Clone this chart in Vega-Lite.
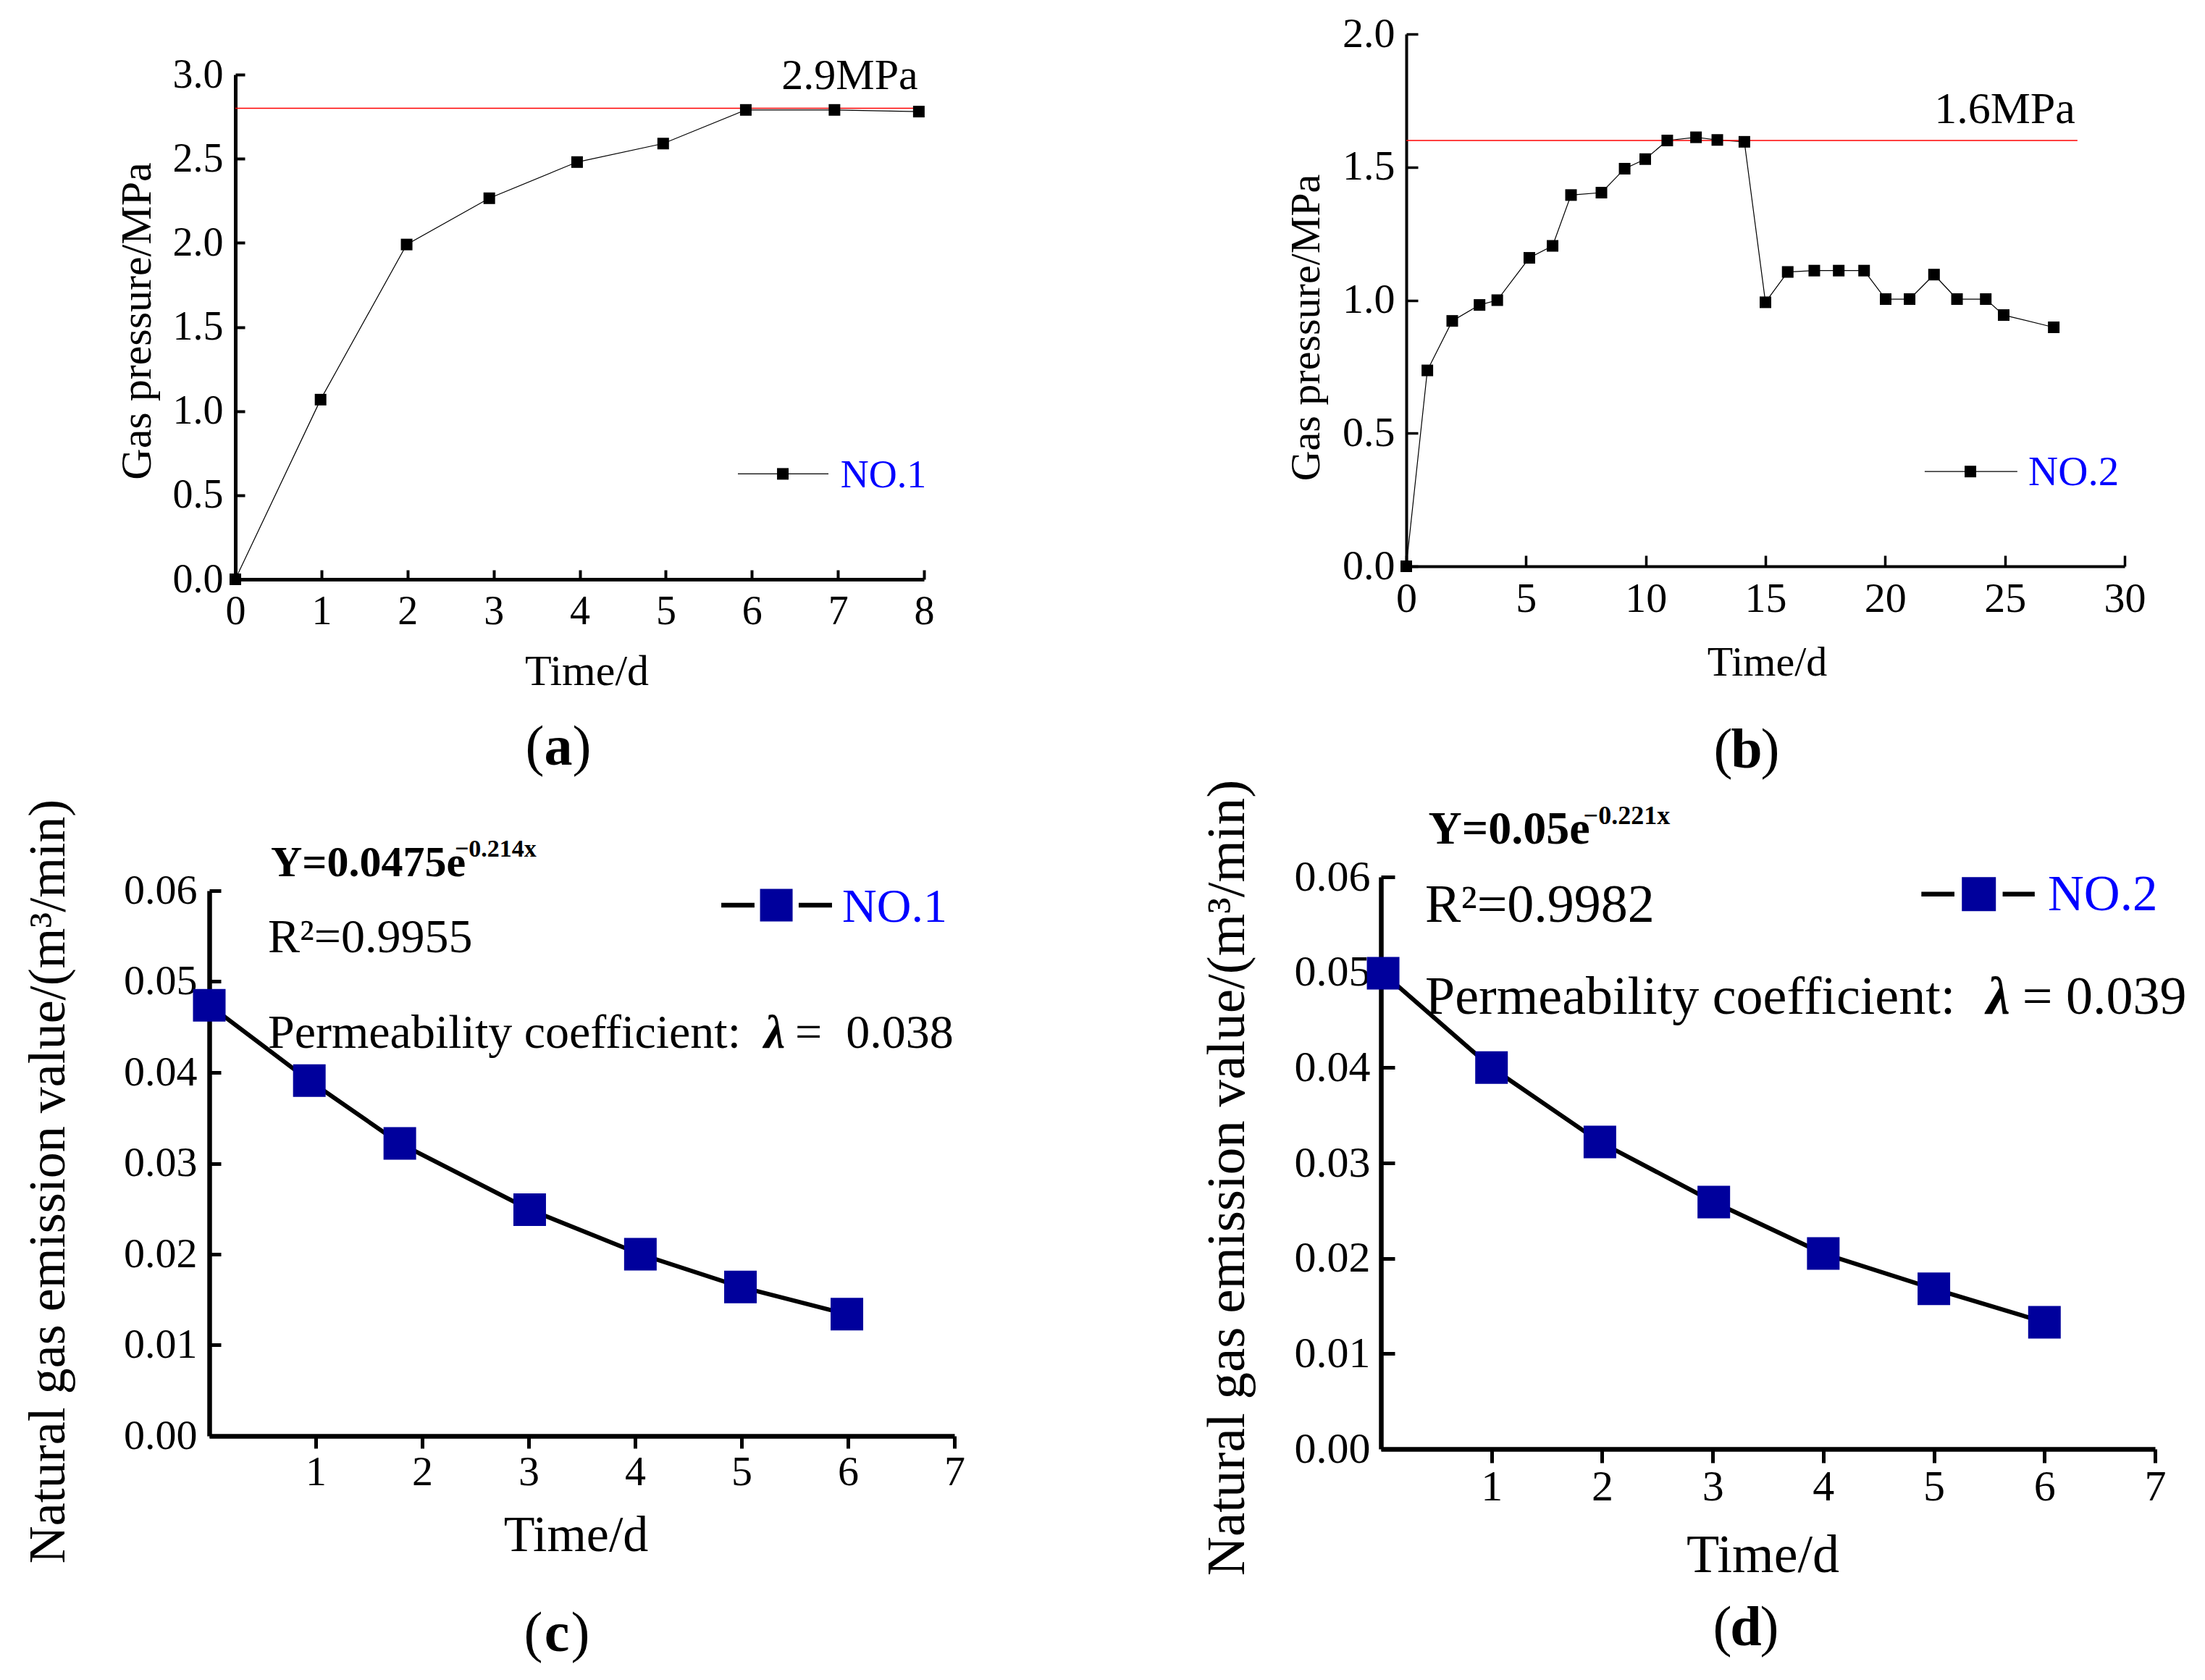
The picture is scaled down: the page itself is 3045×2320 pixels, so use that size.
{
  "$schema": "https://vega.github.io/schema/vega-lite/v6.json",
  "autosize": {"type": "pad"},
  "padding": {"left": 29, "top": 18, "right": 0, "bottom": 0},
  "background": "white",
  "config": {
    "font": "Liberation Serif",
    "view": {"stroke": null},
    "axis": {
      "grid": false,
      "domainColor": "black",
      "tickColor": "black",
      "labelColor": "black",
      "titleColor": "black",
      "labelFont": "Liberation Serif",
      "titleFont": "Liberation Serif",
      "titleFontWeight": "normal",
      "labelFlush": false,
      "labelOverlap": false
    },
    "text": {"font": "Liberation Serif", "color": "black"}
  },
  "datasets": {
    "a": [
      {"t": 0, "p": 0}, {"t": 0.99, "p": 1.068}, {"t": 1.99, "p": 1.99},
      {"t": 2.95, "p": 2.265}, {"t": 3.97, "p": 2.48}, {"t": 4.97, "p": 2.59},
      {"t": 5.93, "p": 2.79}, {"t": 6.96, "p": 2.79}, {"t": 7.94, "p": 2.78}
    ],
    "b": [
      {"t": 0, "p": 0}, {"t": 0.88, "p": 0.736}, {"t": 1.92, "p": 0.922},
      {"t": 3.06, "p": 0.982}, {"t": 3.8, "p": 1.0}, {"t": 5.14, "p": 1.159},
      {"t": 6.11, "p": 1.204}, {"t": 6.88, "p": 1.395}, {"t": 8.15, "p": 1.404},
      {"t": 9.12, "p": 1.494}, {"t": 9.98, "p": 1.53}, {"t": 10.9, "p": 1.6},
      {"t": 12.1, "p": 1.612}, {"t": 12.99, "p": 1.602}, {"t": 14.12, "p": 1.595},
      {"t": 15.0, "p": 0.992}, {"t": 15.93, "p": 1.106}, {"t": 17.04, "p": 1.111},
      {"t": 18.06, "p": 1.111}, {"t": 19.12, "p": 1.111}, {"t": 20.02, "p": 1.004},
      {"t": 21.02, "p": 1.004}, {"t": 22.04, "p": 1.096}, {"t": 23.0, "p": 1.004},
      {"t": 24.2, "p": 1.004}, {"t": 24.95, "p": 0.944}, {"t": 27.04, "p": 0.898}
    ],
    "c": [
      {"t": 0, "v": 0.0474}, {"t": 0.94, "v": 0.0391}, {"t": 1.79, "v": 0.0322},
      {"t": 3.01, "v": 0.0249}, {"t": 4.05, "v": 0.02}, {"t": 4.99, "v": 0.0164},
      {"t": 5.99, "v": 0.0134}
    ],
    "d": [
      {"t": 0.02, "v": 0.0499}, {"t": 1.0, "v": 0.04}, {"t": 1.98, "v": 0.0322},
      {"t": 3.01, "v": 0.0259}, {"t": 4.0, "v": 0.0205}, {"t": 5.0, "v": 0.0168},
      {"t": 6.0, "v": 0.0133}
    ]
  },
  "columns": 2,
  "spacing": {"row": 374, "column": 549},
  "bounds": "flush",
  "align": "all",
  "concat": [
    {
      "width": 1029,
      "height": 753,
      "data": {"name": "a"},
      "layer": [
        {
          "mark": {"type": "line", "color": "black", "strokeWidth": 1.2},
          "encoding": {
            "x": {
              "field": "t", "type": "quantitative",
              "scale": {"domain": [0, 8], "range": [36, 987], "nice": false, "zero": false},
              "axis": {
                "title": "Time/d", "values": [0, 1, 2, 3, 4, 5, 6, 7, 8], "format": "d",
                "offset": 0, "tickSize": -13, "tickWidth": 4, "domainWidth": 5,
                "labelFontSize": 56, "labelPadding": 74, "labelBaseline": "alphabetic",
                "titleFontSize": 60, "titleX": 521, "titleY": 145,
                "titleAlign": "center", "titleBaseline": "alphabetic"
              }
            },
            "y": {
              "field": "p", "type": "quantitative",
              "scale": {"domain": [0, 3], "range": [753, 56], "nice": false, "zero": false},
              "axis": {
                "title": "Gas pressure/MPa", "values": [0, 0.5, 1, 1.5, 2, 2.5, 3], "format": ".1f",
                "offset": -36, "tickSize": -13, "tickWidth": 4, "domainWidth": 5,
                "labelFontSize": 56, "labelPadding": 30,
                "titleFontSize": 60, "titleAngle": 270, "titleX": -118, "titleY": 396,
                "titleAlign": "center", "titleBaseline": "alphabetic"
              }
            }
          }
        },
        {
          "data": {"values": [{}]},
          "mark": {"type": "rule", "color": "#ff0000", "strokeWidth": 1.5},
          "encoding": {
            "x": {"datum": 0, "type": "quantitative"},
            "x2": {"datum": 8},
            "y": {"datum": 2.8, "type": "quantitative"}
          }
        },
        {
          "mark": {"type": "point", "shape": "square", "filled": true, "color": "black", "size": 256, "opacity": 1},
          "encoding": {
            "x": {"field": "t", "type": "quantitative"},
            "y": {"field": "p", "type": "quantitative"}
          }
        },
        {
          "data": {"values": [{}]},
          "mark": {"type": "text", "text": "2.9MPa", "fontSize": 60, "align": "right", "baseline": "alphabetic"},
          "encoding": {
            "x": {"datum": 7.93, "type": "quantitative"},
            "y": {"datum": 2.912, "type": "quantitative"}
          }
        },
        {
          "data": {"values": [{}]},
          "mark": {"type": "rule", "color": "black", "strokeWidth": 1.2},
          "encoding": {
            "x": {"datum": 5.838, "type": "quantitative"},
            "x2": {"datum": 6.89},
            "y": {"datum": 0.6267, "type": "quantitative"}
          }
        },
        {
          "data": {"values": [{}]},
          "mark": {"type": "point", "shape": "square", "filled": true, "color": "black", "size": 256, "opacity": 1},
          "encoding": {
            "x": {"datum": 6.36, "type": "quantitative"},
            "y": {"datum": 0.6267, "type": "quantitative"}
          }
        },
        {
          "data": {"values": [{}]},
          "mark": {"type": "text", "text": "NO.1", "fontSize": 54, "align": "left", "baseline": "alphabetic", "color": "#0000ff"},
          "encoding": {
            "x": {"datum": 7.03, "type": "quantitative"},
            "y": {"datum": 0.5466, "type": "quantitative"}
          }
        },
        {
          "data": {"values": [{}]},
          "mark": {"type": "text", "text": "(\u2002)", "fontSize": 78, "align": "center", "baseline": "alphabetic"},
          "encoding": {
            "x": {"datum": 3.752, "type": "quantitative"},
            "y": {"datum": -1.102, "type": "quantitative"}
          }
        },
        {
          "data": {"values": [{}]},
          "mark": {"type": "text", "text": "a", "fontSize": 78, "fontWeight": "bold", "align": "center", "baseline": "alphabetic"},
          "encoding": {
            "x": {"datum": 3.752, "type": "quantitative"},
            "y": {"datum": -1.102, "type": "quantitative"}
          }
        }
      ]
    },
    {
      "width": 1069,
      "height": 753,
      "data": {"name": "b"},
      "layer": [
        {
          "mark": {"type": "line", "color": "black", "strokeWidth": 1.2},
          "encoding": {
            "x": {
              "field": "t", "type": "quantitative",
              "scale": {"domain": [0, 30], "range": [35, 1027], "nice": false, "zero": false},
              "axis": {
                "title": "Time/d", "values": [0, 5, 10, 15, 20, 25, 30], "format": "d",
                "offset": -18, "tickSize": -15, "tickWidth": 3.5, "domainWidth": 4,
                "labelFontSize": 58, "labelPadding": 77, "labelBaseline": "alphabetic",
                "titleFontSize": 58, "titleX": 533, "titleY": 150,
                "titleAlign": "center", "titleBaseline": "alphabetic"
              }
            },
            "y": {
              "field": "p", "type": "quantitative",
              "scale": {"domain": [0, 2], "range": [735, 0], "nice": false, "zero": false},
              "axis": {
                "title": "Gas pressure/MPa", "values": [0, 0.5, 1, 1.5, 2], "format": ".1f",
                "offset": -35, "tickSize": -16, "tickWidth": 3.5, "domainWidth": 4,
                "labelFontSize": 58, "labelPadding": 32,
                "titleFontSize": 58, "titleAngle": 270, "titleX": -121, "titleY": 405,
                "titleAlign": "center", "titleBaseline": "alphabetic"
              }
            }
          }
        },
        {
          "data": {"values": [{}]},
          "mark": {"type": "rule", "color": "#ff0000", "strokeWidth": 1.5},
          "encoding": {
            "x": {"datum": 0, "type": "quantitative"},
            "x2": {"datum": 28.03},
            "y": {"datum": 1.6, "type": "quantitative"}
          }
        },
        {
          "mark": {"type": "point", "shape": "square", "filled": true, "color": "black", "size": 256, "opacity": 1},
          "encoding": {
            "x": {"field": "t", "type": "quantitative"},
            "y": {"field": "p", "type": "quantitative"}
          }
        },
        {
          "data": {"values": [{}]},
          "mark": {"type": "text", "text": "1.6MPa", "fontSize": 62, "align": "right", "baseline": "alphabetic"},
          "encoding": {
            "x": {"datum": 27.94, "type": "quantitative"},
            "y": {"datum": 1.665, "type": "quantitative"}
          }
        },
        {
          "data": {"values": [{}]},
          "mark": {"type": "rule", "color": "black", "strokeWidth": 1.2},
          "encoding": {
            "x": {"datum": 21.65, "type": "quantitative"},
            "x2": {"datum": 25.52},
            "y": {"datum": 0.356, "type": "quantitative"}
          }
        },
        {
          "data": {"values": [{}]},
          "mark": {"type": "point", "shape": "square", "filled": true, "color": "black", "size": 256, "opacity": 1},
          "encoding": {
            "x": {"datum": 23.56, "type": "quantitative"},
            "y": {"datum": 0.356, "type": "quantitative"}
          }
        },
        {
          "data": {"values": [{}]},
          "mark": {"type": "text", "text": "NO.2", "fontSize": 57, "align": "left", "baseline": "alphabetic", "color": "#0000ff"},
          "encoding": {
            "x": {"datum": 25.98, "type": "quantitative"},
            "y": {"datum": 0.3048, "type": "quantitative"}
          }
        },
        {
          "data": {"values": [{}]},
          "mark": {"type": "text", "text": "(\u2002)", "fontSize": 78, "align": "center", "baseline": "alphabetic"},
          "encoding": {
            "x": {"datum": 14.21, "type": "quantitative"},
            "y": {"datum": -0.7565, "type": "quantitative"}
          }
        },
        {
          "data": {"values": [{}]},
          "mark": {"type": "text", "text": "b", "fontSize": 78, "fontWeight": "bold", "align": "center", "baseline": "alphabetic"},
          "encoding": {
            "x": {"datum": 14.21, "type": "quantitative"},
            "y": {"datum": -0.7565, "type": "quantitative"}
          }
        }
      ]
    },
    {
      "width": 1029,
      "height": 790,
      "data": {"name": "c"},
      "layer": [
        {
          "mark": {"type": "line", "color": "black", "strokeWidth": 6},
          "encoding": {
            "x": {
              "field": "t", "type": "quantitative",
              "scale": {"domain": [0, 7], "range": [0, 1029], "nice": false, "zero": false},
              "axis": {
                "title": "Time/d", "values": [1, 2, 3, 4, 5, 6, 7], "format": "d",
                "offset": -18, "tickSize": 17, "tickWidth": 5, "domainWidth": 6.5,
                "labelFontSize": 58, "labelPadding": 50, "labelBaseline": "alphabetic",
                "titleFontSize": 70, "titleX": 506, "titleY": 158,
                "titleAlign": "center", "titleBaseline": "alphabetic"
              }
            },
            "y": {
              "field": "v", "type": "quantitative",
              "scale": {"domain": [0, 0.06], "range": [772, 19], "nice": false, "zero": false},
              "axis": {
                "title": "Natural gas emission value/(m³/min)",
                "values": [0, 0.01, 0.02, 0.03, 0.04, 0.05, 0.06], "format": ".2f",
                "offset": 0, "tickSize": -16, "tickWidth": 5, "domainWidth": 6.5,
                "labelFontSize": 58, "labelPadding": 33,
                "titleFontSize": 72, "titleAngle": 270, "titleX": -201, "titleY": 420,
                "titleAlign": "center", "titleBaseline": "alphabetic"
              }
            }
          }
        },
        {
          "mark": {"type": "point", "shape": "square", "filled": true, "color": "#00009c", "size": 2025, "opacity": 1},
          "encoding": {
            "x": {"field": "t", "type": "quantitative"},
            "y": {"field": "v", "type": "quantitative"}
          }
        },
        {
          "data": {"values": [{}]},
          "mark": {"type": "text", "text": "Y=0.0475e", "fontSize": 60, "fontWeight": "bold", "align": "left", "baseline": "alphabetic"},
          "encoding": {
            "x": {"datum": 0.578, "type": "quantitative"},
            "y": {"datum": 0.0616, "type": "quantitative"}
          }
        },
        {
          "data": {"values": [{}]},
          "mark": {"type": "text", "text": "−0.214x", "fontSize": 34, "fontWeight": "bold", "align": "left", "baseline": "alphabetic"},
          "encoding": {
            "x": {"datum": 2.306, "type": "quantitative"},
            "y": {"datum": 0.06375, "type": "quantitative"}
          }
        },
        {
          "data": {"values": [{}]},
          "mark": {"type": "text", "text": "R²=0.9955", "fontSize": 66, "align": "left", "baseline": "alphabetic"},
          "encoding": {
            "x": {"datum": 0.551, "type": "quantitative"},
            "y": {"datum": 0.05323, "type": "quantitative"}
          }
        },
        {
          "data": {"values": [{}]},
          "mark": {"type": "text", "text": "Permeability coefficient:", "fontSize": 66, "align": "left", "baseline": "alphabetic"},
          "encoding": {
            "x": {"datum": 0.551, "type": "quantitative"},
            "y": {"datum": 0.04271, "type": "quantitative"}
          }
        },
        {
          "data": {"values": [{}]},
          "mark": {"type": "text", "text": "λ", "fontSize": 66, "fontWeight": "bold", "fontStyle": "italic", "align": "left", "baseline": "alphabetic"},
          "encoding": {
            "x": {"datum": 5.211, "type": "quantitative"},
            "y": {"datum": 0.04271, "type": "quantitative"}
          }
        },
        {
          "data": {"values": [{}]},
          "mark": {"type": "text", "text": "=\u00a0\u00a00.038", "fontSize": 66, "align": "left", "baseline": "alphabetic"},
          "encoding": {
            "x": {"datum": 5.503, "type": "quantitative"},
            "y": {"datum": 0.04271, "type": "quantitative"}
          }
        },
        {
          "data": {"values": [{}]},
          "mark": {"type": "rule", "color": "black", "strokeWidth": 6.5},
          "encoding": {
            "x": {"datum": 4.81, "type": "quantitative"},
            "x2": {"datum": 5.122},
            "y": {"datum": 0.0584, "type": "quantitative"}
          }
        },
        {
          "data": {"values": [{}]},
          "mark": {"type": "rule", "color": "black", "strokeWidth": 6.5},
          "encoding": {
            "x": {"datum": 5.537, "type": "quantitative"},
            "x2": {"datum": 5.85},
            "y": {"datum": 0.0584, "type": "quantitative"}
          }
        },
        {
          "data": {"values": [{}]},
          "mark": {"type": "point", "shape": "square", "filled": true, "color": "#00009c", "size": 2025, "opacity": 1},
          "encoding": {
            "x": {"datum": 5.327, "type": "quantitative"},
            "y": {"datum": 0.0584, "type": "quantitative"}
          }
        },
        {
          "data": {"values": [{}]},
          "mark": {"type": "text", "text": "NO.1", "fontSize": 66, "align": "left", "baseline": "alphabetic", "color": "#0000ff"},
          "encoding": {
            "x": {"datum": 5.946, "type": "quantitative"},
            "y": {"datum": 0.05657, "type": "quantitative"}
          }
        },
        {
          "data": {"values": [{}]},
          "mark": {"type": "text", "text": "(\u2002)", "fontSize": 78, "align": "center", "baseline": "alphabetic"},
          "encoding": {
            "x": {"datum": 3.265, "type": "quantitative"},
            "y": {"datum": -0.02367, "type": "quantitative"}
          }
        },
        {
          "data": {"values": [{}]},
          "mark": {"type": "text", "text": "c", "fontSize": 78, "fontWeight": "bold", "align": "center", "baseline": "alphabetic"},
          "encoding": {
            "x": {"datum": 3.265, "type": "quantitative"},
            "y": {"datum": -0.02367, "type": "quantitative"}
          }
        }
      ]
    },
    {
      "width": 1069,
      "height": 790,
      "data": {"name": "d"},
      "layer": [
        {
          "mark": {"type": "line", "color": "black", "strokeWidth": 6},
          "encoding": {
            "x": {
              "field": "t", "type": "quantitative",
              "scale": {"domain": [0, 7], "range": [0, 1069], "nice": false, "zero": false},
              "axis": {
                "title": "Time/d", "values": [1, 2, 3, 4, 5, 6, 7], "format": "d",
                "offset": 0, "tickSize": 19, "tickWidth": 5, "domainWidth": 6.5,
                "labelFontSize": 60, "labelPadding": 51, "labelBaseline": "alphabetic",
                "titleFontSize": 74, "titleX": 527, "titleY": 169,
                "titleAlign": "center", "titleBaseline": "alphabetic"
              }
            },
            "y": {
              "field": "v", "type": "quantitative",
              "scale": {"domain": [0, 0.06], "range": [790, 0], "nice": false, "zero": false},
              "axis": {
                "title": "Natural gas emission value/(m³/min)",
                "values": [0, 0.01, 0.02, 0.03, 0.04, 0.05, 0.06], "format": ".2f",
                "offset": 0, "tickSize": -19, "tickWidth": 5, "domainWidth": 6.5,
                "labelFontSize": 60, "labelPadding": 34,
                "titleFontSize": 75, "titleAngle": 270, "titleX": -190, "titleY": 415,
                "titleAlign": "center", "titleBaseline": "alphabetic"
              }
            }
          }
        },
        {
          "mark": {"type": "point", "shape": "square", "filled": true, "color": "#00009c", "size": 2025, "opacity": 1},
          "encoding": {
            "x": {"field": "t", "type": "quantitative"},
            "y": {"field": "v", "type": "quantitative"}
          }
        },
        {
          "data": {"values": [{}]},
          "mark": {"type": "text", "text": "Y=0.05e", "fontSize": 64, "fontWeight": "bold", "align": "left", "baseline": "alphabetic"},
          "encoding": {
            "x": {"datum": 0.429, "type": "quantitative"},
            "y": {"datum": 0.0635, "type": "quantitative"}
          }
        },
        {
          "data": {"values": [{}]},
          "mark": {"type": "text", "text": "−0.221x", "fontSize": 36, "fontWeight": "bold", "align": "left", "baseline": "alphabetic"},
          "encoding": {
            "x": {"datum": 1.831, "type": "quantitative"},
            "y": {"datum": 0.06554, "type": "quantitative"}
          }
        },
        {
          "data": {"values": [{}]},
          "mark": {"type": "text", "text": "R²=0.9982", "fontSize": 74, "align": "left", "baseline": "alphabetic"},
          "encoding": {
            "x": {"datum": 0.4, "type": "quantitative"},
            "y": {"datum": 0.05532, "type": "quantitative"}
          }
        },
        {
          "data": {"values": [{}]},
          "mark": {"type": "text", "text": "Permeability coefficient:", "fontSize": 74, "align": "left", "baseline": "alphabetic"},
          "encoding": {
            "x": {"datum": 0.4, "type": "quantitative"},
            "y": {"datum": 0.04568, "type": "quantitative"}
          }
        },
        {
          "data": {"values": [{}]},
          "mark": {"type": "text", "text": "λ", "fontSize": 74, "fontWeight": "bold", "fontStyle": "italic", "align": "left", "baseline": "alphabetic"},
          "encoding": {
            "x": {"datum": 5.475, "type": "quantitative"},
            "y": {"datum": 0.04568, "type": "quantitative"}
          }
        },
        {
          "data": {"values": [{}]},
          "mark": {"type": "text", "text": "= 0.039", "fontSize": 74, "align": "left", "baseline": "alphabetic"},
          "encoding": {
            "x": {"datum": 5.8, "type": "quantitative"},
            "y": {"datum": 0.04568, "type": "quantitative"}
          }
        },
        {
          "data": {"values": [{}]},
          "mark": {"type": "rule", "color": "black", "strokeWidth": 6.5},
          "encoding": {
            "x": {"datum": 4.887, "type": "quantitative"},
            "x2": {"datum": 5.186},
            "y": {"datum": 0.05819, "type": "quantitative"}
          }
        },
        {
          "data": {"values": [{}]},
          "mark": {"type": "rule", "color": "black", "strokeWidth": 6.5},
          "encoding": {
            "x": {"datum": 5.622, "type": "quantitative"},
            "x2": {"datum": 5.912},
            "y": {"datum": 0.05819, "type": "quantitative"}
          }
        },
        {
          "data": {"values": [{}]},
          "mark": {"type": "point", "shape": "square", "filled": true, "color": "#00009c", "size": 2209, "opacity": 1},
          "encoding": {
            "x": {"datum": 5.407, "type": "quantitative"},
            "y": {"datum": 0.05819, "type": "quantitative"}
          }
        },
        {
          "data": {"values": [{}]},
          "mark": {"type": "text", "text": "NO.2", "fontSize": 69, "align": "left", "baseline": "alphabetic", "color": "#0000ff"},
          "encoding": {
            "x": {"datum": 6.031, "type": "quantitative"},
            "y": {"datum": 0.05651, "type": "quantitative"}
          }
        },
        {
          "data": {"values": [{}]},
          "mark": {"type": "text", "text": "(\u2002)", "fontSize": 78, "align": "center", "baseline": "alphabetic"},
          "encoding": {
            "x": {"datum": 3.3, "type": "quantitative"},
            "y": {"datum": -0.02058, "type": "quantitative"}
          }
        },
        {
          "data": {"values": [{}]},
          "mark": {"type": "text", "text": "d", "fontSize": 78, "fontWeight": "bold", "align": "center", "baseline": "alphabetic"},
          "encoding": {
            "x": {"datum": 3.3, "type": "quantitative"},
            "y": {"datum": -0.02058, "type": "quantitative"}
          }
        }
      ]
    }
  ]
}
